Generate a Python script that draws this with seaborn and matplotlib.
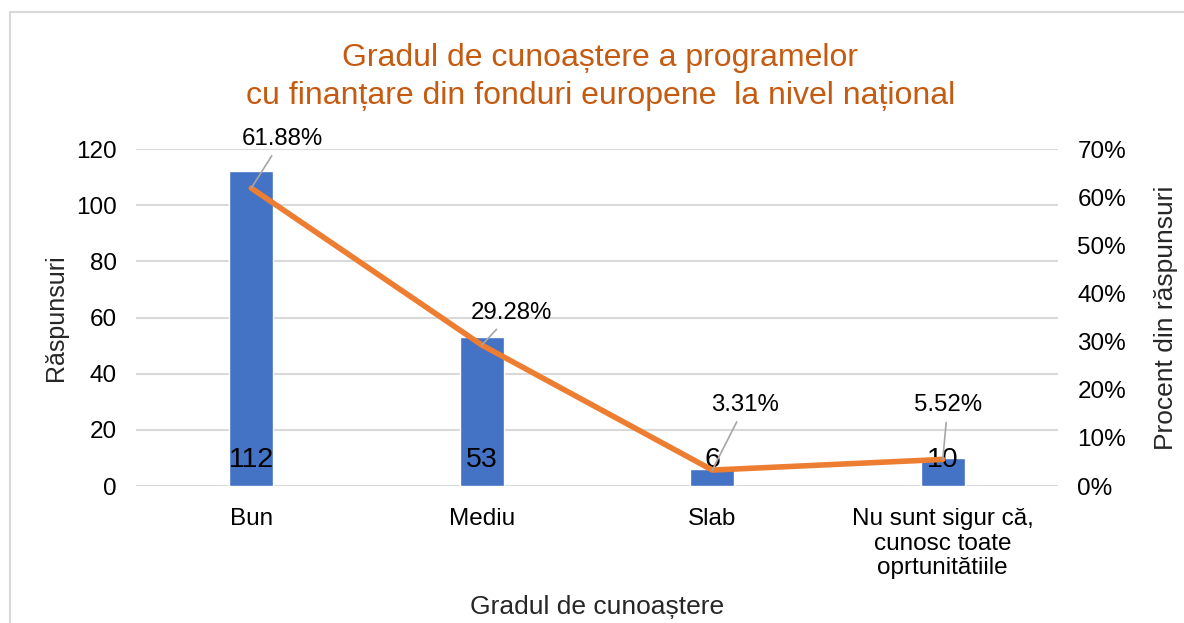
import matplotlib.pyplot as plt
import seaborn as sns
from matplotlib.patches import Rectangle
from matplotlib.ticker import PercentFormatter

# Data
categories = ['Bun', 'Mediu', 'Slab', 'Nu sunt sigur că,\ncunosc toate\noprtunitătiile']
responses = [112, 53, 6, 10]
percents = [61.88, 29.28, 3.31, 5.52]
# label offsets (pixels) for the percent call-outs
pct_offsets = [(31, 49), (30, 32), (33, 65), (5, 54)]

sns.set_theme(style='white')
plt.rcParams['font.family'] = ['Liberation Sans', 'DejaVu Sans']

bar_color = '#4472C4'
line_color = '#ED7D31'
title_color = '#C55A11'
grid_color = '#D9D9D9'

fig = plt.figure(figsize=(11.84, 6.23), dpi=100)
ax = fig.add_axes([0.1149, 0.2199, 0.7787, 0.5409])

# Bars: number of responses
sns.barplot(x=categories, y=responses, color=bar_color, width=0.19,
            saturation=1, ax=ax, zorder=2)
ax.set_ylim(0, 120)
ax.set_yticks(range(0, 121, 20))
ax.grid(axis='y', color=grid_color, linewidth=1.5, zorder=0)
ax.set_axisbelow(True)
for s in ax.spines.values():
    s.set_visible(False)
ax.tick_params(axis='both', length=0, labelsize=17.5, colors='black')
ax.tick_params(axis='y', pad=14)
ax.tick_params(axis='x', pad=16)
for lbl in ax.get_xticklabels():
    lbl.set_linespacing(1.15)
ax.set_xlabel('Gradul de cunoaștere', fontsize=19, labelpad=11)
ax.set_ylabel('Răspunsuri', fontsize=18, labelpad=6)

# Bar value labels (inside base)
for i, v in enumerate(responses):
    ax.annotate(str(v), xy=(i, 0), xytext=(0, 26), textcoords='offset pixels',
                ha='center', va='center', fontsize=20.5, color='black', zorder=5)

# Line: percentage of responses on a secondary axis
ax2 = ax.twinx()
sns.pointplot(x=categories, y=percents, color=line_color, markers='',
              linewidth=4, errorbar=None, ax=ax2)
ax2.set_ylim(0, 70)
ax2.set_yticks(range(0, 71, 10))
ax2.yaxis.set_major_formatter(PercentFormatter(decimals=0))
for s in ax2.spines.values():
    s.set_visible(False)
ax2.tick_params(axis='y', length=0, labelsize=17.5, pad=14, colors='black')
ax2.set_ylabel('Procent din răspunsuri', fontsize=19, labelpad=20)
ax2.set_xlim(-0.5, len(categories) - 0.5)

for i, (p, off) in enumerate(zip(percents, pct_offsets)):
    ax2.annotate(f'{p:.2f}%', xy=(i, p), xytext=off, textcoords='offset pixels',
                 ha='center', va='center', fontsize=17.3, color='black',
                 arrowprops=dict(arrowstyle='-', color='#A6A6A6', lw=1.2,
                                 shrinkA=2, shrinkB=0))

# Title
fig.text(0.507, 1 - 77 / 623,
         'Gradul de cunoaștere a programelor\ncu finanțare din fonduri europene  la nivel național',
         ha='center', va='center', fontsize=23, color=title_color, linespacing=1.35)

# Chart border
fig.add_artist(Rectangle((10 / 1184, -0.1), 1.2, 1 - 12 / 623 + 0.1,
                         transform=fig.transFigure, fill=False,
                         edgecolor=grid_color, linewidth=1.5))

fig.savefig('out.png', dpi=100)
